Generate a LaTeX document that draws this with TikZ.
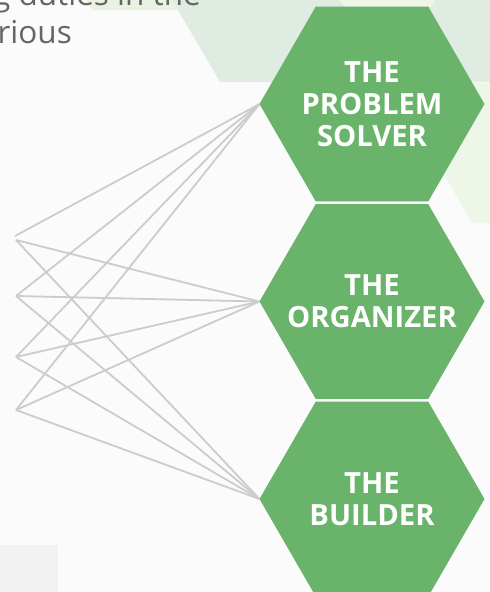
\documentclass[tikz,border=0pt]{standalone}
\usepackage{fontspec}
\setmainfont{Open Sans}
\usetikzlibrary{shapes.geometric}
\definecolor{hexgreen}{RGB}{105,179,106}
\definecolor{bgcol}{RGB}{251,251,251}
\definecolor{graygreen}{RGB}{224,235,225}
\definecolor{lightgreen}{RGB}{233,242,227}
\definecolor{palegreen}{RGB}{238,246,232}
\definecolor{linegray}{RGB}{204,204,204}
\definecolor{textgray}{RGB}{102,102,102}
\definecolor{boxgray}{RGB}{242,242,242}
\begin{document}
\begin{tikzpicture}[x=1pt,y=-1pt,
  hexnode/.style={regular polygon, regular polygon sides=6, minimum size=225pt,
    inner sep=-30pt, outer sep=0pt, fill=hexgreen, text=white,
    font=\bfseries\fontsize{29.2}{32}\selectfont, align=center},
  link/.style={draw=linegray, line width=1.8pt},
  titletext/.style={anchor=base east, inner sep=0pt, text=textgray,
    font=\fontsize{31.5}{38}\selectfont}]
\useasboundingbox (0,0) rectangle (490,592);
\clip (0,0) rectangle (490,592);
\fill[bgcol] (0,0) rectangle (490,592);
% background honeycomb
\fill[lightgreen] (86,-1) -- (92,10) -- (185,10) -- (185,-1) -- cycle;
\fill[graygreen] (171.6,-1) -- (220,82) -- (490,82) -- (490,-1) -- cycle;
\fill[palegreen] (338,-1) -- (345,7) -- (431,7) -- (436,-1) -- cycle;
\fill[palegreen] (400,83) -- (490,83) -- (490,223) -- (472,223) -- (431,152) -- (400,152) -- cycle;
\fill[boxgray] (0,545) rectangle (58,592);
% text
\node[titletext] (t1) at (201,5) {g duties in the};
\node[titletext] (t2) at (72,43) {rious};
% hexagons
\node[hexnode] (ps) at (372,104) {THE\\PROBLEM\\SOLVER};
\node[hexnode] (org) at (372,301.5) {THE\\ORGANIZER};
\node[hexnode] (bld) at (372,499) {THE\\BUILDER};
% left points
\coordinate (a1) at (15,236);
\coordinate (a1b) at (16,240);
\coordinate (a2) at (16,296);
\coordinate (a3) at (16,357);
\coordinate (a4) at (16,410);
\foreach \s in {a1,a2,a3,a4} \draw[link] (\s) -- (ps.west);
\foreach \s in {a1b,a2,a3,a4} {
  \draw[link] (\s) -- (org.west);
  \draw[link] (\s) -- (bld.west);
}
\end{tikzpicture}
\end{document}
